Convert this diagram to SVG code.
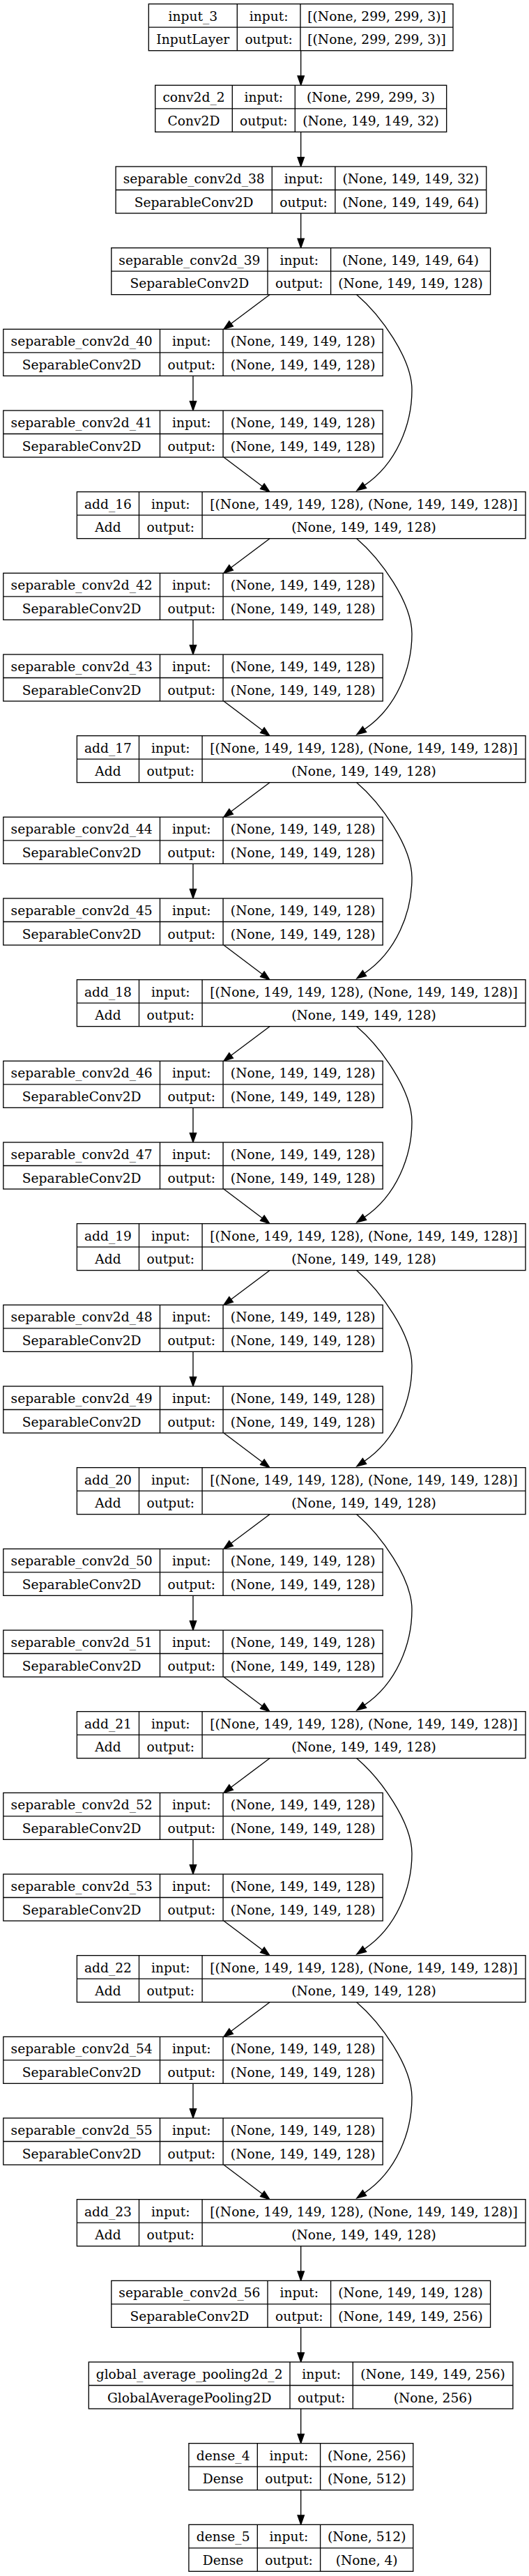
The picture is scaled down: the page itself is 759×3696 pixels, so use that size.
<svg xmlns="http://www.w3.org/2000/svg" width="759" height="3696" viewBox="0 0 759 3696">
<style>
.bx{fill:#fff;stroke:#000;stroke-width:1.33}
.ln{stroke:#000;stroke-width:1.33}
text{font-family:"DejaVu Serif","Liberation Serif",serif;font-size:18.67px;text-anchor:middle;fill:#000}
.e{fill:none;stroke:#000;stroke-width:1.33;marker-end:url(#ah)}
</style>
<defs>
<marker id="ah" markerUnits="userSpaceOnUse" viewBox="-2 -7 18 14" markerWidth="18" markerHeight="14" refX="0" refY="0" orient="auto" overflow="visible"><path d="M0,-4.67 L13.33,0 L0,4.67 Z" fill="#000" stroke="#000" stroke-width="1.33"/></marker>
</defs>
<rect width="759" height="3696" fill="#fff"/>

<g id="edges">
<path class="e" d="M431.7,72.67 V109"/>
<path class="e" d="M431.7,189.33 V225.67"/>
<path class="e" d="M431.7,306 V342.33"/>
<path class="e" d="M431.7,3222.67 V3259"/>
<path class="e" d="M431.7,3339.33 V3375.67"/>
<path class="e" d="M431.7,3456 V3492.33"/>
<path class="e" d="M431.7,3572.67 V3609"/>

<path class="e" d="M387,422.67 L331.65,464.33"/>
<path class="e" d="M277,539.33 V575.67"/>
<path class="e" d="M321,656 L376.35,697.66"/>
<path class="e" transform="translate(511.7,422.67)" d="M0,0 C34.3,29.3 79.3,91.7 79.3,136.7 C79.3,186.7 57,242.9 11.3,273.7"/>

<path class="e" d="M387,772.67 L331.65,814.33"/>
<path class="e" d="M277,889.33 V925.67"/>
<path class="e" d="M321,1006 L376.35,1047.66"/>
<path class="e" transform="translate(511.7,772.67)" d="M0,0 C34.3,29.3 79.3,91.7 79.3,136.7 C79.3,186.7 57,242.9 11.3,273.7"/>

<path class="e" d="M387,1122.67 L331.65,1164.33"/>
<path class="e" d="M277,1239.33 V1275.67"/>
<path class="e" d="M321,1356 L376.35,1397.66"/>
<path class="e" transform="translate(511.7,1122.67)" d="M0,0 C34.3,29.3 79.3,91.7 79.3,136.7 C79.3,186.7 57,242.9 11.3,273.7"/>

<path class="e" d="M387,1472.67 L331.65,1514.33"/>
<path class="e" d="M277,1589.33 V1625.67"/>
<path class="e" d="M321,1706 L376.35,1747.66"/>
<path class="e" transform="translate(511.7,1472.67)" d="M0,0 C34.3,29.3 79.3,91.7 79.3,136.7 C79.3,186.7 57,242.9 11.3,273.7"/>

<path class="e" d="M387,1822.67 L331.65,1864.33"/>
<path class="e" d="M277,1939.33 V1975.67"/>
<path class="e" d="M321,2056 L376.35,2097.66"/>
<path class="e" transform="translate(511.7,1822.67)" d="M0,0 C34.3,29.3 79.3,91.7 79.3,136.7 C79.3,186.7 57,242.9 11.3,273.7"/>

<path class="e" d="M387,2172.67 L331.65,2214.33"/>
<path class="e" d="M277,2289.33 V2325.67"/>
<path class="e" d="M321,2406 L376.35,2447.66"/>
<path class="e" transform="translate(511.7,2172.67)" d="M0,0 C34.3,29.3 79.3,91.7 79.3,136.7 C79.3,186.7 57,242.9 11.3,273.7"/>

<path class="e" d="M387,2522.67 L331.65,2564.33"/>
<path class="e" d="M277,2639.33 V2675.67"/>
<path class="e" d="M321,2756 L376.35,2797.66"/>
<path class="e" transform="translate(511.7,2522.67)" d="M0,0 C34.3,29.3 79.3,91.7 79.3,136.7 C79.3,186.7 57,242.9 11.3,273.7"/>

<path class="e" d="M387,2872.67 L331.65,2914.33"/>
<path class="e" d="M277,2989.33 V3025.67"/>
<path class="e" d="M321,3106 L376.35,3147.66"/>
<path class="e" transform="translate(511.7,2872.67)" d="M0,0 C34.3,29.3 79.3,91.7 79.3,136.7 C79.3,186.7 57,242.9 11.3,273.7"/>
</g>

<g id="input_3" transform="translate(0,5.67)">
<rect class="bx" x="213.3" y="0" width="436.7" height="67"/>
<path class="ln" d="M213.3,33.5 H650 M340.3,0 V67 M431,0 V67"/>
<text x="276.8" y="24">input_3</text><text x="385.65" y="24">input:</text><text x="540.5" y="24">[(None, 299, 299, 3)]</text>
<text x="276.8" y="57.5">InputLayer</text><text x="385.65" y="57.5">output:</text><text x="540.5" y="57.5">[(None, 299, 299, 3)]</text>
</g>

<g id="conv2d_2" transform="translate(0,122.33)">
<rect class="bx" x="222.7" y="0" width="418" height="67"/>
<path class="ln" d="M222.7,33.5 H640.7 M333.3,0 V67 M423.3,0 V67"/>
<text x="278" y="24">conv2d_2</text><text x="378.3" y="24">input:</text><text x="532" y="24">(None, 299, 299, 3)</text>
<text x="278" y="57.5">Conv2D</text><text x="378.3" y="57.5">output:</text><text x="532" y="57.5">(None, 149, 149, 32)</text>
</g>

<g id="separable_conv2d_38" transform="translate(0,239)">
<rect class="bx" x="166.1" y="0" width="531.7" height="67"/>
<path class="ln" d="M166.1,33.5 H697.8 M390.3,0 V67 M480.9,0 V67"/>
<text x="278.2" y="24">separable_conv2d_38</text><text x="435.6" y="24">input:</text><text x="589.35" y="24">(None, 149, 149, 32)</text>
<text x="278.2" y="57.5">SeparableConv2D</text><text x="435.6" y="57.5">output:</text><text x="589.35" y="57.5">(None, 149, 149, 64)</text>
</g>

<g id="separable_conv2d_39" transform="translate(0,355.67)">
<rect class="bx" x="159.8" y="0" width="543.8" height="67"/>
<path class="ln" d="M159.8,33.5 H703.6 M384,0 V67 M474.6,0 V67"/>
<text x="271.9" y="24">separable_conv2d_39</text><text x="429.3" y="24">input:</text><text x="589.1" y="24">(None, 149, 149, 64)</text>
<text x="271.9" y="57.5">SeparableConv2D</text><text x="429.3" y="57.5">output:</text><text x="589.1" y="57.5">(None, 149, 149, 128)</text>
</g>

<g id="separable_conv2d_40" transform="translate(0,472.33)">
<rect class="bx" x="4.8" y="0" width="544.4" height="67"/>
<path class="ln" d="M4.8,33.5 H549.2 M229.5,0 V67 M320.1,0 V67"/>
<text x="117.15" y="24">separable_conv2d_40</text><text x="274.8" y="24">input:</text><text x="434.65" y="24">(None, 149, 149, 128)</text>
<text x="117.15" y="57.5">SeparableConv2D</text><text x="274.8" y="57.5">output:</text><text x="434.65" y="57.5">(None, 149, 149, 128)</text>
</g>
<g id="separable_conv2d_41" transform="translate(0,589)">
<rect class="bx" x="4.8" y="0" width="544.4" height="67"/>
<path class="ln" d="M4.8,33.5 H549.2 M229.5,0 V67 M320.1,0 V67"/>
<text x="117.15" y="24">separable_conv2d_41</text><text x="274.8" y="24">input:</text><text x="434.65" y="24">(None, 149, 149, 128)</text>
<text x="117.15" y="57.5">SeparableConv2D</text><text x="274.8" y="57.5">output:</text><text x="434.65" y="57.5">(None, 149, 149, 128)</text>
</g>
<g id="add_16" transform="translate(0,705.67)">
<rect class="bx" x="110.4" y="0" width="643.6" height="67"/>
<path class="ln" d="M110.4,33.5 H754 M199.5,0 V67 M290.1,0 V67"/>
<text x="154.95" y="24">add_16</text><text x="244.8" y="24">input:</text><text x="522.05" y="24">[(None, 149, 149, 128), (None, 149, 149, 128)]</text>
<text x="154.95" y="57.5">Add</text><text x="244.8" y="57.5">output:</text><text x="522.05" y="57.5">(None, 149, 149, 128)</text>
</g>

<g id="separable_conv2d_42" transform="translate(0,822.33)">
<rect class="bx" x="4.8" y="0" width="544.4" height="67"/>
<path class="ln" d="M4.8,33.5 H549.2 M229.5,0 V67 M320.1,0 V67"/>
<text x="117.15" y="24">separable_conv2d_42</text><text x="274.8" y="24">input:</text><text x="434.65" y="24">(None, 149, 149, 128)</text>
<text x="117.15" y="57.5">SeparableConv2D</text><text x="274.8" y="57.5">output:</text><text x="434.65" y="57.5">(None, 149, 149, 128)</text>
</g>
<g id="separable_conv2d_43" transform="translate(0,939)">
<rect class="bx" x="4.8" y="0" width="544.4" height="67"/>
<path class="ln" d="M4.8,33.5 H549.2 M229.5,0 V67 M320.1,0 V67"/>
<text x="117.15" y="24">separable_conv2d_43</text><text x="274.8" y="24">input:</text><text x="434.65" y="24">(None, 149, 149, 128)</text>
<text x="117.15" y="57.5">SeparableConv2D</text><text x="274.8" y="57.5">output:</text><text x="434.65" y="57.5">(None, 149, 149, 128)</text>
</g>
<g id="add_17" transform="translate(0,1055.67)">
<rect class="bx" x="110.4" y="0" width="643.6" height="67"/>
<path class="ln" d="M110.4,33.5 H754 M199.5,0 V67 M290.1,0 V67"/>
<text x="154.95" y="24">add_17</text><text x="244.8" y="24">input:</text><text x="522.05" y="24">[(None, 149, 149, 128), (None, 149, 149, 128)]</text>
<text x="154.95" y="57.5">Add</text><text x="244.8" y="57.5">output:</text><text x="522.05" y="57.5">(None, 149, 149, 128)</text>
</g>

<g id="separable_conv2d_44" transform="translate(0,1172.33)">
<rect class="bx" x="4.8" y="0" width="544.4" height="67"/>
<path class="ln" d="M4.8,33.5 H549.2 M229.5,0 V67 M320.1,0 V67"/>
<text x="117.15" y="24">separable_conv2d_44</text><text x="274.8" y="24">input:</text><text x="434.65" y="24">(None, 149, 149, 128)</text>
<text x="117.15" y="57.5">SeparableConv2D</text><text x="274.8" y="57.5">output:</text><text x="434.65" y="57.5">(None, 149, 149, 128)</text>
</g>
<g id="separable_conv2d_45" transform="translate(0,1289)">
<rect class="bx" x="4.8" y="0" width="544.4" height="67"/>
<path class="ln" d="M4.8,33.5 H549.2 M229.5,0 V67 M320.1,0 V67"/>
<text x="117.15" y="24">separable_conv2d_45</text><text x="274.8" y="24">input:</text><text x="434.65" y="24">(None, 149, 149, 128)</text>
<text x="117.15" y="57.5">SeparableConv2D</text><text x="274.8" y="57.5">output:</text><text x="434.65" y="57.5">(None, 149, 149, 128)</text>
</g>
<g id="add_18" transform="translate(0,1405.67)">
<rect class="bx" x="110.4" y="0" width="643.6" height="67"/>
<path class="ln" d="M110.4,33.5 H754 M199.5,0 V67 M290.1,0 V67"/>
<text x="154.95" y="24">add_18</text><text x="244.8" y="24">input:</text><text x="522.05" y="24">[(None, 149, 149, 128), (None, 149, 149, 128)]</text>
<text x="154.95" y="57.5">Add</text><text x="244.8" y="57.5">output:</text><text x="522.05" y="57.5">(None, 149, 149, 128)</text>
</g>

<g id="separable_conv2d_46" transform="translate(0,1522.33)">
<rect class="bx" x="4.8" y="0" width="544.4" height="67"/>
<path class="ln" d="M4.8,33.5 H549.2 M229.5,0 V67 M320.1,0 V67"/>
<text x="117.15" y="24">separable_conv2d_46</text><text x="274.8" y="24">input:</text><text x="434.65" y="24">(None, 149, 149, 128)</text>
<text x="117.15" y="57.5">SeparableConv2D</text><text x="274.8" y="57.5">output:</text><text x="434.65" y="57.5">(None, 149, 149, 128)</text>
</g>
<g id="separable_conv2d_47" transform="translate(0,1639)">
<rect class="bx" x="4.8" y="0" width="544.4" height="67"/>
<path class="ln" d="M4.8,33.5 H549.2 M229.5,0 V67 M320.1,0 V67"/>
<text x="117.15" y="24">separable_conv2d_47</text><text x="274.8" y="24">input:</text><text x="434.65" y="24">(None, 149, 149, 128)</text>
<text x="117.15" y="57.5">SeparableConv2D</text><text x="274.8" y="57.5">output:</text><text x="434.65" y="57.5">(None, 149, 149, 128)</text>
</g>
<g id="add_19" transform="translate(0,1755.67)">
<rect class="bx" x="110.4" y="0" width="643.6" height="67"/>
<path class="ln" d="M110.4,33.5 H754 M199.5,0 V67 M290.1,0 V67"/>
<text x="154.95" y="24">add_19</text><text x="244.8" y="24">input:</text><text x="522.05" y="24">[(None, 149, 149, 128), (None, 149, 149, 128)]</text>
<text x="154.95" y="57.5">Add</text><text x="244.8" y="57.5">output:</text><text x="522.05" y="57.5">(None, 149, 149, 128)</text>
</g>

<g id="separable_conv2d_48" transform="translate(0,1872.33)">
<rect class="bx" x="4.8" y="0" width="544.4" height="67"/>
<path class="ln" d="M4.8,33.5 H549.2 M229.5,0 V67 M320.1,0 V67"/>
<text x="117.15" y="24">separable_conv2d_48</text><text x="274.8" y="24">input:</text><text x="434.65" y="24">(None, 149, 149, 128)</text>
<text x="117.15" y="57.5">SeparableConv2D</text><text x="274.8" y="57.5">output:</text><text x="434.65" y="57.5">(None, 149, 149, 128)</text>
</g>
<g id="separable_conv2d_49" transform="translate(0,1989)">
<rect class="bx" x="4.8" y="0" width="544.4" height="67"/>
<path class="ln" d="M4.8,33.5 H549.2 M229.5,0 V67 M320.1,0 V67"/>
<text x="117.15" y="24">separable_conv2d_49</text><text x="274.8" y="24">input:</text><text x="434.65" y="24">(None, 149, 149, 128)</text>
<text x="117.15" y="57.5">SeparableConv2D</text><text x="274.8" y="57.5">output:</text><text x="434.65" y="57.5">(None, 149, 149, 128)</text>
</g>
<g id="add_20" transform="translate(0,2105.67)">
<rect class="bx" x="110.4" y="0" width="643.6" height="67"/>
<path class="ln" d="M110.4,33.5 H754 M199.5,0 V67 M290.1,0 V67"/>
<text x="154.95" y="24">add_20</text><text x="244.8" y="24">input:</text><text x="522.05" y="24">[(None, 149, 149, 128), (None, 149, 149, 128)]</text>
<text x="154.95" y="57.5">Add</text><text x="244.8" y="57.5">output:</text><text x="522.05" y="57.5">(None, 149, 149, 128)</text>
</g>

<g id="separable_conv2d_50" transform="translate(0,2222.33)">
<rect class="bx" x="4.8" y="0" width="544.4" height="67"/>
<path class="ln" d="M4.8,33.5 H549.2 M229.5,0 V67 M320.1,0 V67"/>
<text x="117.15" y="24">separable_conv2d_50</text><text x="274.8" y="24">input:</text><text x="434.65" y="24">(None, 149, 149, 128)</text>
<text x="117.15" y="57.5">SeparableConv2D</text><text x="274.8" y="57.5">output:</text><text x="434.65" y="57.5">(None, 149, 149, 128)</text>
</g>
<g id="separable_conv2d_51" transform="translate(0,2339)">
<rect class="bx" x="4.8" y="0" width="544.4" height="67"/>
<path class="ln" d="M4.8,33.5 H549.2 M229.5,0 V67 M320.1,0 V67"/>
<text x="117.15" y="24">separable_conv2d_51</text><text x="274.8" y="24">input:</text><text x="434.65" y="24">(None, 149, 149, 128)</text>
<text x="117.15" y="57.5">SeparableConv2D</text><text x="274.8" y="57.5">output:</text><text x="434.65" y="57.5">(None, 149, 149, 128)</text>
</g>
<g id="add_21" transform="translate(0,2455.67)">
<rect class="bx" x="110.4" y="0" width="643.6" height="67"/>
<path class="ln" d="M110.4,33.5 H754 M199.5,0 V67 M290.1,0 V67"/>
<text x="154.95" y="24">add_21</text><text x="244.8" y="24">input:</text><text x="522.05" y="24">[(None, 149, 149, 128), (None, 149, 149, 128)]</text>
<text x="154.95" y="57.5">Add</text><text x="244.8" y="57.5">output:</text><text x="522.05" y="57.5">(None, 149, 149, 128)</text>
</g>

<g id="separable_conv2d_52" transform="translate(0,2572.33)">
<rect class="bx" x="4.8" y="0" width="544.4" height="67"/>
<path class="ln" d="M4.8,33.5 H549.2 M229.5,0 V67 M320.1,0 V67"/>
<text x="117.15" y="24">separable_conv2d_52</text><text x="274.8" y="24">input:</text><text x="434.65" y="24">(None, 149, 149, 128)</text>
<text x="117.15" y="57.5">SeparableConv2D</text><text x="274.8" y="57.5">output:</text><text x="434.65" y="57.5">(None, 149, 149, 128)</text>
</g>
<g id="separable_conv2d_53" transform="translate(0,2689)">
<rect class="bx" x="4.8" y="0" width="544.4" height="67"/>
<path class="ln" d="M4.8,33.5 H549.2 M229.5,0 V67 M320.1,0 V67"/>
<text x="117.15" y="24">separable_conv2d_53</text><text x="274.8" y="24">input:</text><text x="434.65" y="24">(None, 149, 149, 128)</text>
<text x="117.15" y="57.5">SeparableConv2D</text><text x="274.8" y="57.5">output:</text><text x="434.65" y="57.5">(None, 149, 149, 128)</text>
</g>
<g id="add_22" transform="translate(0,2805.67)">
<rect class="bx" x="110.4" y="0" width="643.6" height="67"/>
<path class="ln" d="M110.4,33.5 H754 M199.5,0 V67 M290.1,0 V67"/>
<text x="154.95" y="24">add_22</text><text x="244.8" y="24">input:</text><text x="522.05" y="24">[(None, 149, 149, 128), (None, 149, 149, 128)]</text>
<text x="154.95" y="57.5">Add</text><text x="244.8" y="57.5">output:</text><text x="522.05" y="57.5">(None, 149, 149, 128)</text>
</g>

<g id="separable_conv2d_54" transform="translate(0,2922.33)">
<rect class="bx" x="4.8" y="0" width="544.4" height="67"/>
<path class="ln" d="M4.8,33.5 H549.2 M229.5,0 V67 M320.1,0 V67"/>
<text x="117.15" y="24">separable_conv2d_54</text><text x="274.8" y="24">input:</text><text x="434.65" y="24">(None, 149, 149, 128)</text>
<text x="117.15" y="57.5">SeparableConv2D</text><text x="274.8" y="57.5">output:</text><text x="434.65" y="57.5">(None, 149, 149, 128)</text>
</g>
<g id="separable_conv2d_55" transform="translate(0,3039)">
<rect class="bx" x="4.8" y="0" width="544.4" height="67"/>
<path class="ln" d="M4.8,33.5 H549.2 M229.5,0 V67 M320.1,0 V67"/>
<text x="117.15" y="24">separable_conv2d_55</text><text x="274.8" y="24">input:</text><text x="434.65" y="24">(None, 149, 149, 128)</text>
<text x="117.15" y="57.5">SeparableConv2D</text><text x="274.8" y="57.5">output:</text><text x="434.65" y="57.5">(None, 149, 149, 128)</text>
</g>
<g id="add_23" transform="translate(0,3155.67)">
<rect class="bx" x="110.4" y="0" width="643.6" height="67"/>
<path class="ln" d="M110.4,33.5 H754 M199.5,0 V67 M290.1,0 V67"/>
<text x="154.95" y="24">add_23</text><text x="244.8" y="24">input:</text><text x="522.05" y="24">[(None, 149, 149, 128), (None, 149, 149, 128)]</text>
<text x="154.95" y="57.5">Add</text><text x="244.8" y="57.5">output:</text><text x="522.05" y="57.5">(None, 149, 149, 128)</text>
</g>

<g id="separable_conv2d_56" transform="translate(0,3272.33)">
<rect class="bx" x="159.8" y="0" width="543.8" height="67"/>
<path class="ln" d="M159.8,33.5 H703.6 M384,0 V67 M474.6,0 V67"/>
<text x="271.9" y="24">separable_conv2d_56</text><text x="429.3" y="24">input:</text><text x="589.1" y="24">(None, 149, 149, 128)</text>
<text x="271.9" y="57.5">SeparableConv2D</text><text x="429.3" y="57.5">output:</text><text x="589.1" y="57.5">(None, 149, 149, 256)</text>
</g>

<g id="global_average_pooling2d_2" transform="translate(0,3389)">
<rect class="bx" x="127.3" y="0" width="608.6" height="67"/>
<path class="ln" d="M127.3,33.5 H735.9 M416,0 V67 M506.3,0 V67"/>
<text x="271.65" y="24">global_average_pooling2d_2</text><text x="461.15" y="24">input:</text><text x="621.1" y="24">(None, 149, 149, 256)</text>
<text x="271.65" y="57.5">GlobalAveragePooling2D</text><text x="461.15" y="57.5">output:</text><text x="621.1" y="57.5">(None, 256)</text>
</g>

<g id="dense_4" transform="translate(0,3505.67)">
<rect class="bx" x="270.9" y="0" width="321.9" height="67"/>
<path class="ln" d="M270.9,33.5 H592.8 M369.3,0 V67 M459.6,0 V67"/>
<text x="320.1" y="24">dense_4</text><text x="414.45" y="24">input:</text><text x="526.2" y="24">(None, 256)</text>
<text x="320.1" y="57.5">Dense</text><text x="414.45" y="57.5">output:</text><text x="526.2" y="57.5">(None, 512)</text>
</g>

<g id="dense_5" transform="translate(0,3622.33)">
<rect class="bx" x="270.9" y="0" width="321.9" height="67"/>
<path class="ln" d="M270.9,33.5 H592.8 M369.3,0 V67 M459.6,0 V67"/>
<text x="320.1" y="24">dense_5</text><text x="414.45" y="24">input:</text><text x="526.2" y="24">(None, 512)</text>
<text x="320.1" y="57.5">Dense</text><text x="414.45" y="57.5">output:</text><text x="526.2" y="57.5">(None, 4)</text>
</g>
</svg>
